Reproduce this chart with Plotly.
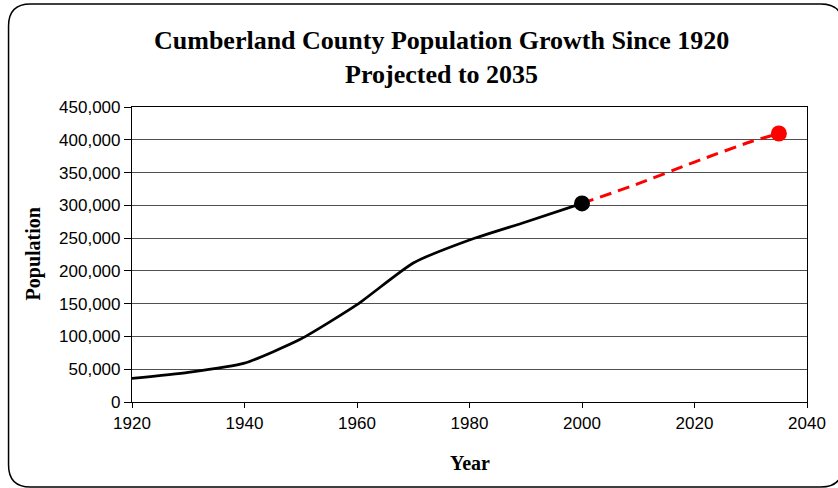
import plotly.graph_objects as go

# Census counts, Cumberland County
hist_years = [1920, 1930, 1940, 1950, 1960, 1970, 1980, 1990, 2000]
hist_pop = [35877, 45219, 59320, 96006, 148418, 212042, 247160, 274566, 302963]

# Projection from the 2000 census out to 2035
proj_years = [2000, 2010, 2020, 2030, 2035]
proj_pop = [302963, 333000, 366000, 397000, 409600]

x_ticks = [1920, 1940, 1960, 1980, 2000, 2020, 2040]
y_ticks = [0, 50000, 100000, 150000, 200000, 250000, 300000, 350000, 400000, 450000]

W, H = 838, 488
L, R, T, B = 132, 28, 107, 86
PW, PH = W - L - R, H - T - B


def px(x):
    return (x - L) / PW


def py(y):
    return (H - B - y) / PH


fig = go.Figure()

fig.add_trace(go.Scatter(
    x=proj_years, y=proj_pop, mode="lines",
    line=dict(color="#ff0000", width=3, dash="12px,7px", shape="spline", smoothing=0.6),
    hoverinfo="skip", showlegend=False,
))
fig.add_trace(go.Scatter(
    x=hist_years, y=hist_pop, mode="lines",
    line=dict(color="black", width=2.7, shape="spline", smoothing=0.55),
    showlegend=False,
))
fig.add_trace(go.Scatter(
    x=[hist_years[-1]], y=[hist_pop[-1]], mode="markers",
    marker=dict(color="black", size=16), showlegend=False,
))
fig.add_trace(go.Scatter(
    x=[proj_years[-1]], y=[proj_pop[-1]], mode="markers",
    marker=dict(color="#ff0000", size=16), showlegend=False,
))

tick_font = dict(family="Liberation Sans, Arial, sans-serif", size=17, color="black")
serif_bold = dict(family="Liberation Serif, Times New Roman, serif", color="black", weight="bold")

fig.update_xaxes(
    range=[1920, 2040], tickvals=x_ticks, ticktext=[str(v) for v in x_ticks],
    showgrid=False, zeroline=False, showline=True, linecolor="black", linewidth=1.2,
    mirror=True, ticks="outside", ticklen=5, tickcolor="black", tickfont=tick_font,
)
fig.update_yaxes(
    range=[0, 450000], tickvals=y_ticks, ticktext=[f"{v:,}" for v in y_ticks],
    showgrid=True, gridcolor="#505050", gridwidth=1, zeroline=False,
    showline=True, linecolor="black", linewidth=1.2, mirror=True,
    ticks="outside", ticklen=7, tickcolor="black", tickfont=tick_font,
)

# Rounded frame around the whole chart
x0, y0, x1, y1, r = px(8), py(4), px(846), py(487), 22
rx, ry = r / PW, r / PH
frame = (
    f"M {x0 + rx} {y0} L {x1 - rx} {y0} Q {x1} {y0} {x1} {y0 - ry} "
    f"L {x1} {y1 + ry} Q {x1} {y1} {x1 - rx} {y1} "
    f"L {x0 + rx} {y1} Q {x0} {y1} {x0} {y1 + ry} "
    f"L {x0} {y0 - ry} Q {x0} {y0} {x0 + rx} {y0} Z"
)

fig.update_layout(
    width=W, height=H,
    margin=dict(l=L, r=R, t=T, b=B),
    paper_bgcolor="white", plot_bgcolor="white",
    shapes=[dict(type="path", path=frame, xref="paper", yref="paper",
                 line=dict(color="black", width=1.5), layer="above")],
    annotations=[
        dict(text="Cumberland County Population Growth Since 1920<br>Projected to 2035",
             x=px(443), y=py(58), xref="paper", yref="paper", showarrow=False,
             xanchor="center", yanchor="middle", font=dict(size=26, **serif_bold)),
        dict(text="Year", x=px(471), y=py(463), xref="paper", yref="paper",
             showarrow=False, xanchor="center", yanchor="middle",
             font=dict(size=20, **serif_bold)),
        dict(text="Population", x=px(33), y=py(254), xref="paper", yref="paper",
             showarrow=False, xanchor="center", yanchor="middle", textangle=-90,
             font=dict(size=20, **serif_bold)),
    ],
)

fig.write_html("out.html")
